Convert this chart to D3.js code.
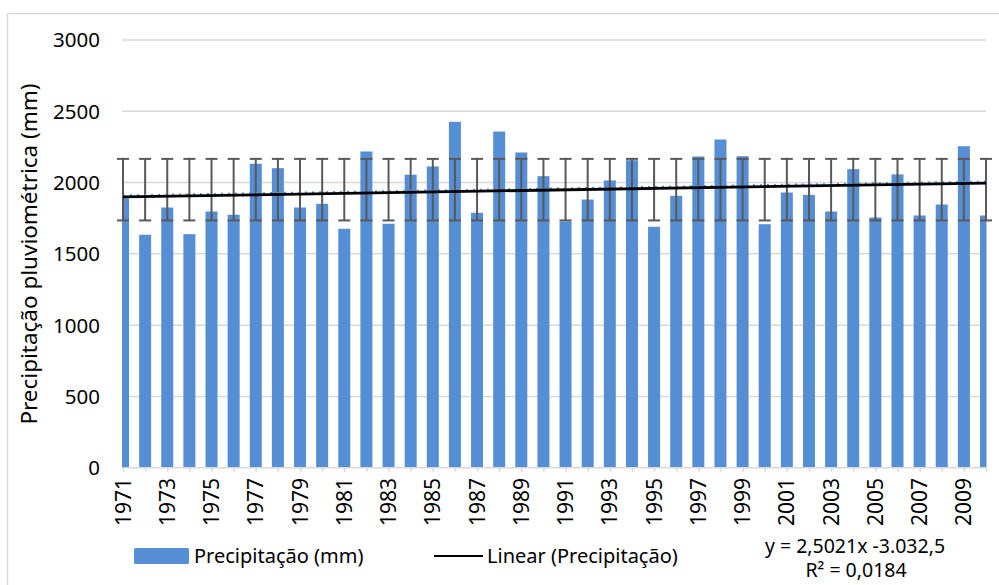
<!DOCTYPE html>
<html>
<head>
<meta charset="utf-8">
<script src="https://cdn.jsdelivr.net/npm/d3@7"></script>
<style>
  body { margin: 0; background: #fff; }
  svg { display: block; font-family: "Noto Sans", "Open Sans", sans-serif; }
</style>
</head>
<body>
<svg width="999" height="585"></svg>
<script>
var years = d3.range(1971, 2011);
var precip = [1890, 1634, 1825, 1638, 1797, 1774, 2132, 2101, 1825, 1851,
              1676, 2218, 1711, 2055, 2113, 2426, 1788, 2358, 2211, 2045,
              1727, 1881, 2015, 2157, 1690, 1907, 2183, 2302, 2185, 1708,
              1930, 1914, 1797, 2094, 1755, 2057, 1769, 1846, 2255, 1769];
var yTicks = [0, 500, 1000, 1500, 2000, 2500, 3000];
var trendSlope = 2.5021, trendIntercept = -3032.5;
var trendLabel = "y = 2,5021x -3.032,5";
var r2Label = "R² = 0,0184";

var svg = d3.select("svg"),
    plot = {left: 123, right: 986, top: 40, bottom: 467.7};

var barColor = "#558ed5", gridColor = "#d9d9d9";

// chart frame (extends past the picture on the right and bottom)
svg.append("rect")
    .attr("x", 7.5).attr("y", 13.5)
    .attr("width", 1100).attr("height", 700)
    .attr("fill", "none")
    .attr("stroke", gridColor)
    .attr("stroke-width", 1.5);

var x = d3.scalePoint().domain(years).range([plot.left, plot.right]);
var y = d3.scaleLinear().domain([0, 3000]).range([plot.bottom, plot.top]);

// gridlines
svg.append("g")
  .selectAll("line")
  .data(yTicks.slice(1))
  .enter().append("line")
    .attr("x1", plot.left - 1).attr("x2", plot.right)
    .attr("y1", function(d) { return y(d); })
    .attr("y2", function(d) { return y(d); })
    .attr("stroke", gridColor)
    .attr("stroke-width", 1.5);

// y labels
svg.append("g")
  .selectAll("text")
  .data(yTicks)
  .enter().append("text")
    .attr("x", 100)
    .attr("y", function(d) { return y(d); })
    .attr("dy", "0.36em")
    .attr("text-anchor", "end")
    .attr("font-size", "20.5px")
    .attr("fill", "#000")
    .text(function(d) { return d; });

svg.append("text")
    .attr("transform", "translate(37,254) rotate(-90)")
    .attr("text-anchor", "middle")
    .attr("font-size", "22.5px")
    .attr("fill", "#000")
    .text("Precipitação pluviométrica (mm)");

svg.append("clipPath").attr("id", "clip")
  .append("rect")
    .attr("x", plot.left - 1).attr("y", 0)
    .attr("width", plot.right - plot.left + 1.5).attr("height", 600);

var barW = 12;
var data = years.map(function(yr, i) { return {year: yr, value: precip[i]}; });

var g = svg.append("g").attr("clip-path", "url(#clip)");

g.selectAll("rect.bar")
  .data(data)
  .enter().append("rect")
    .attr("class", "bar")
    .attr("x", function(d) { return x(d.year) - barW / 2; })
    .attr("y", function(d) { return y(d.value); })
    .attr("width", barW)
    .attr("height", function(d) { return y(0) - y(d.value); })
    .attr("fill", barColor);

// x axis line and ticks
var xAxis = svg.append("g")
    .attr("transform", "translate(0," + plot.bottom + ")")
    .call(d3.axisBottom(x).tickSize(4).tickFormat(""));
xAxis.select(".domain").attr("stroke", gridColor).attr("stroke-width", 1.5)
    .attr("d", "M" + (plot.left - 1) + ",0H" + plot.right);
xAxis.selectAll(".tick line").attr("stroke", gridColor).attr("stroke-width", 1.5);

svg.append("g")
  .selectAll("text")
  .data(years.filter(function(yr) { return (yr - 1971) % 2 === 0; }))
  .enter().append("text")
    .attr("transform", function(d) { return "translate(" + x(d) + ",478) rotate(-90)"; })
    .attr("dy", "0.36em")
    .attr("text-anchor", "end")
    .attr("font-size", "21px")
    .attr("fill", "#000")
    .text(function(d) { return d; });

// error bars: standard deviation around the mean
var mean = d3.mean(precip), sd = d3.deviation(precip);
var eb = svg.append("g").attr("stroke", "#595959").attr("stroke-width", 2);
data.forEach(function(d) {
  var cx = x(d.year);
  eb.append("line").attr("x1", cx).attr("x2", cx)
    .attr("y1", y(mean + sd)).attr("y2", y(mean - sd));
  [mean + sd, mean - sd].forEach(function(v) {
    eb.append("line").attr("x1", cx - 6).attr("x2", cx + 6)
      .attr("y1", y(v)).attr("y2", y(v));
  });
});

// trend line
var trend = [years[0], years[years.length - 1]].map(function(yr) {
  return {year: yr, value: trendSlope * yr + trendIntercept};
});
var line = d3.line()
    .x(function(d) { return x(d.year); })
    .y(function(d) { return y(d.value); });

svg.append("path")
    .datum(trend)
    .attr("d", line)
    .attr("transform", "translate(0,-1.5)")
    .attr("fill", "none")
    .attr("stroke", barColor)
    .attr("stroke-width", 2)
    .attr("stroke-dasharray", "2,5");

svg.append("path")
    .datum(trend)
    .attr("d", line)
    .attr("fill", "none")
    .attr("stroke", "#000")
    .attr("stroke-width", 2.8);

// legend
var legend = svg.append("g").attr("font-size", "20px").attr("fill", "#000");
legend.append("rect")
    .attr("x", 134).attr("y", 548).attr("width", 55).attr("height", 16)
    .attr("rx", 1.5)
    .attr("fill", barColor);
legend.append("text").attr("x", 194).attr("y", 556).attr("dy", "0.36em")
    .text("Precipitação (mm)");
legend.append("line")
    .attr("x1", 434).attr("x2", 483).attr("y1", 556).attr("y2", 556)
    .attr("stroke", "#000").attr("stroke-width", 2);
legend.append("text").attr("x", 487).attr("y", 556).attr("dy", "0.36em")
    .text("Linear (Precipitação)");

svg.append("text").attr("x", 855).attr("y", 546).attr("dy", "0.36em")
    .attr("text-anchor", "middle").attr("font-size", "19.5px")
    .text(trendLabel);
svg.append("text").attr("x", 856).attr("y", 570).attr("dy", "0.36em")
    .attr("text-anchor", "middle").attr("font-size", "19.5px")
    .text(r2Label);
</script>
</body>
</html>
